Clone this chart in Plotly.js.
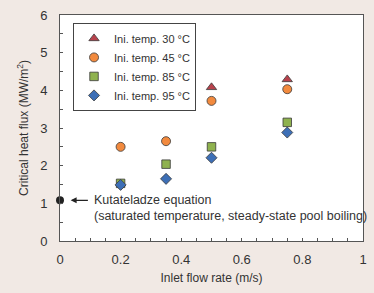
<!DOCTYPE html>
<html><head><meta charset="utf-8">
<script src="https://cdn.plot.ly/plotly-3.0.1.min.js"></script>
<style>html,body{margin:0;padding:0;background:#f1e9e4;}</style>
</head><body><div id="c" style="width:374px;height:293px;"></div>
<script>
const flowRate = [0.2, 0.35, 0.5, 0.75];
const chf30 = [3.58, 3.67, 4.08, 4.29];
const chf45 = [2.50, 2.65, 3.72, 4.03];
const chf85 = [1.53, 2.04, 2.50, 3.15];
const chf95 = [1.49, 1.65, 2.21, 2.88];
const kutX = [0];
const kutY = [1.08];
const names = ['Ini. temp. 30 \u00B0C','Ini. temp. 45 \u00B0C','Ini. temp. 85 \u00B0C','Ini. temp. 95 \u00B0C'];
const xTickVals = [0, 0.2, 0.4, 0.6, 0.8, 1];
const xTickText = ['0', '0.2', '0.4', '0.6', '0.8', '1'];

const line = {color:'#3a3a3a', width:0.8};
const traces = [
 {x:flowRate, y:chf30, name:names[0], mode:'markers', type:'scatter', marker:{symbol:'triangle-up', size:9, color:'#b8424c', line:line}},
 {x:flowRate, y:chf45, name:names[1], mode:'markers', type:'scatter', marker:{symbol:'circle', size:9, color:'#f28a3e', line:line}},
 {x:flowRate, y:chf85, name:names[2], mode:'markers', type:'scatter', marker:{symbol:'square', size:8.5, color:'#8fb24e', line:line}},
 {x:flowRate, y:chf95, name:names[3], mode:'markers', type:'scatter', marker:{symbol:'diamond', size:8.5, color:'#3d6fb6', line:line}},
 {x:kutX, y:kutY, mode:'markers', type:'scatter', showlegend:false, cliponaxis:false, marker:{symbol:'circle', size:8, color:'#222'}}
];
const layout = {
 width:374, height:293,
 paper_bgcolor:'#f1e9e4', plot_bgcolor:'#ffffff',
 margin:{l:60, r:11, t:15, b:52},
 font:{family:'Liberation Sans, Arial, sans-serif', size:12, color:'#333'},
 showlegend:true,
 legend:{x:0.043, y:0.965, xanchor:'left', yanchor:'top', bgcolor:'#ffffff', bordercolor:'#444', borderwidth:1, font:{size:11, color:'#333'}, tracegroupgap:0, itemwidth:30, itemsizing:'trace'},
 xaxis:{range:[0,1], tickvals:xTickVals, ticktext:xTickText, showgrid:false, zeroline:false, showline:true, linecolor:'#555', mirror:true, ticks:'inside', ticklen:3, tickcolor:'#555',
   ticklabelstandoff:6, tickfont:{size:13},
   minor:{dtick:0.05, ticks:'inside', ticklen:3, tickcolor:'#555'},
   title:{text:'Inlet flow rate (m/s)', font:{size:12}, standoff:8}},
 yaxis:{range:[0,6], dtick:1, showgrid:false, zeroline:false, showline:true, linecolor:'#555', mirror:true, ticks:'inside', ticklen:3, tickcolor:'#555',
   ticklabelstandoff:9, tickfont:{size:13},
   minor:{dtick:0.5, ticks:'inside', ticklen:3, tickcolor:'#555'},
   title:{text:'Critical heat flux (MW/m<sup>2</sup>)', font:{size:12}, standoff:8}},
 annotations:[
  {x:0.035, y:1.08, ax:0.097, ay:1.08, xref:'x', yref:'y', axref:'x', ayref:'y', text:'', showarrow:true, arrowhead:2, arrowsize:1, arrowwidth:1.2, arrowcolor:'#222'},
  {x:0.105, y:1.08, xref:'x', yref:'y', xanchor:'left', yanchor:'middle', align:'left', showarrow:false, text:'Kutateladze equation', font:{size:12.5, color:'#333'}},
  {x:0.105, y:0.66, xref:'x', yref:'y', xanchor:'left', yanchor:'middle', align:'left', showarrow:false, text:'(saturated temperature, steady-state pool boiling)', font:{size:12.5, color:'#333'}}
 ]
};
Plotly.newPlot('c', traces, layout, {displayModeBar:false, staticPlot:true});
</script></body></html>
